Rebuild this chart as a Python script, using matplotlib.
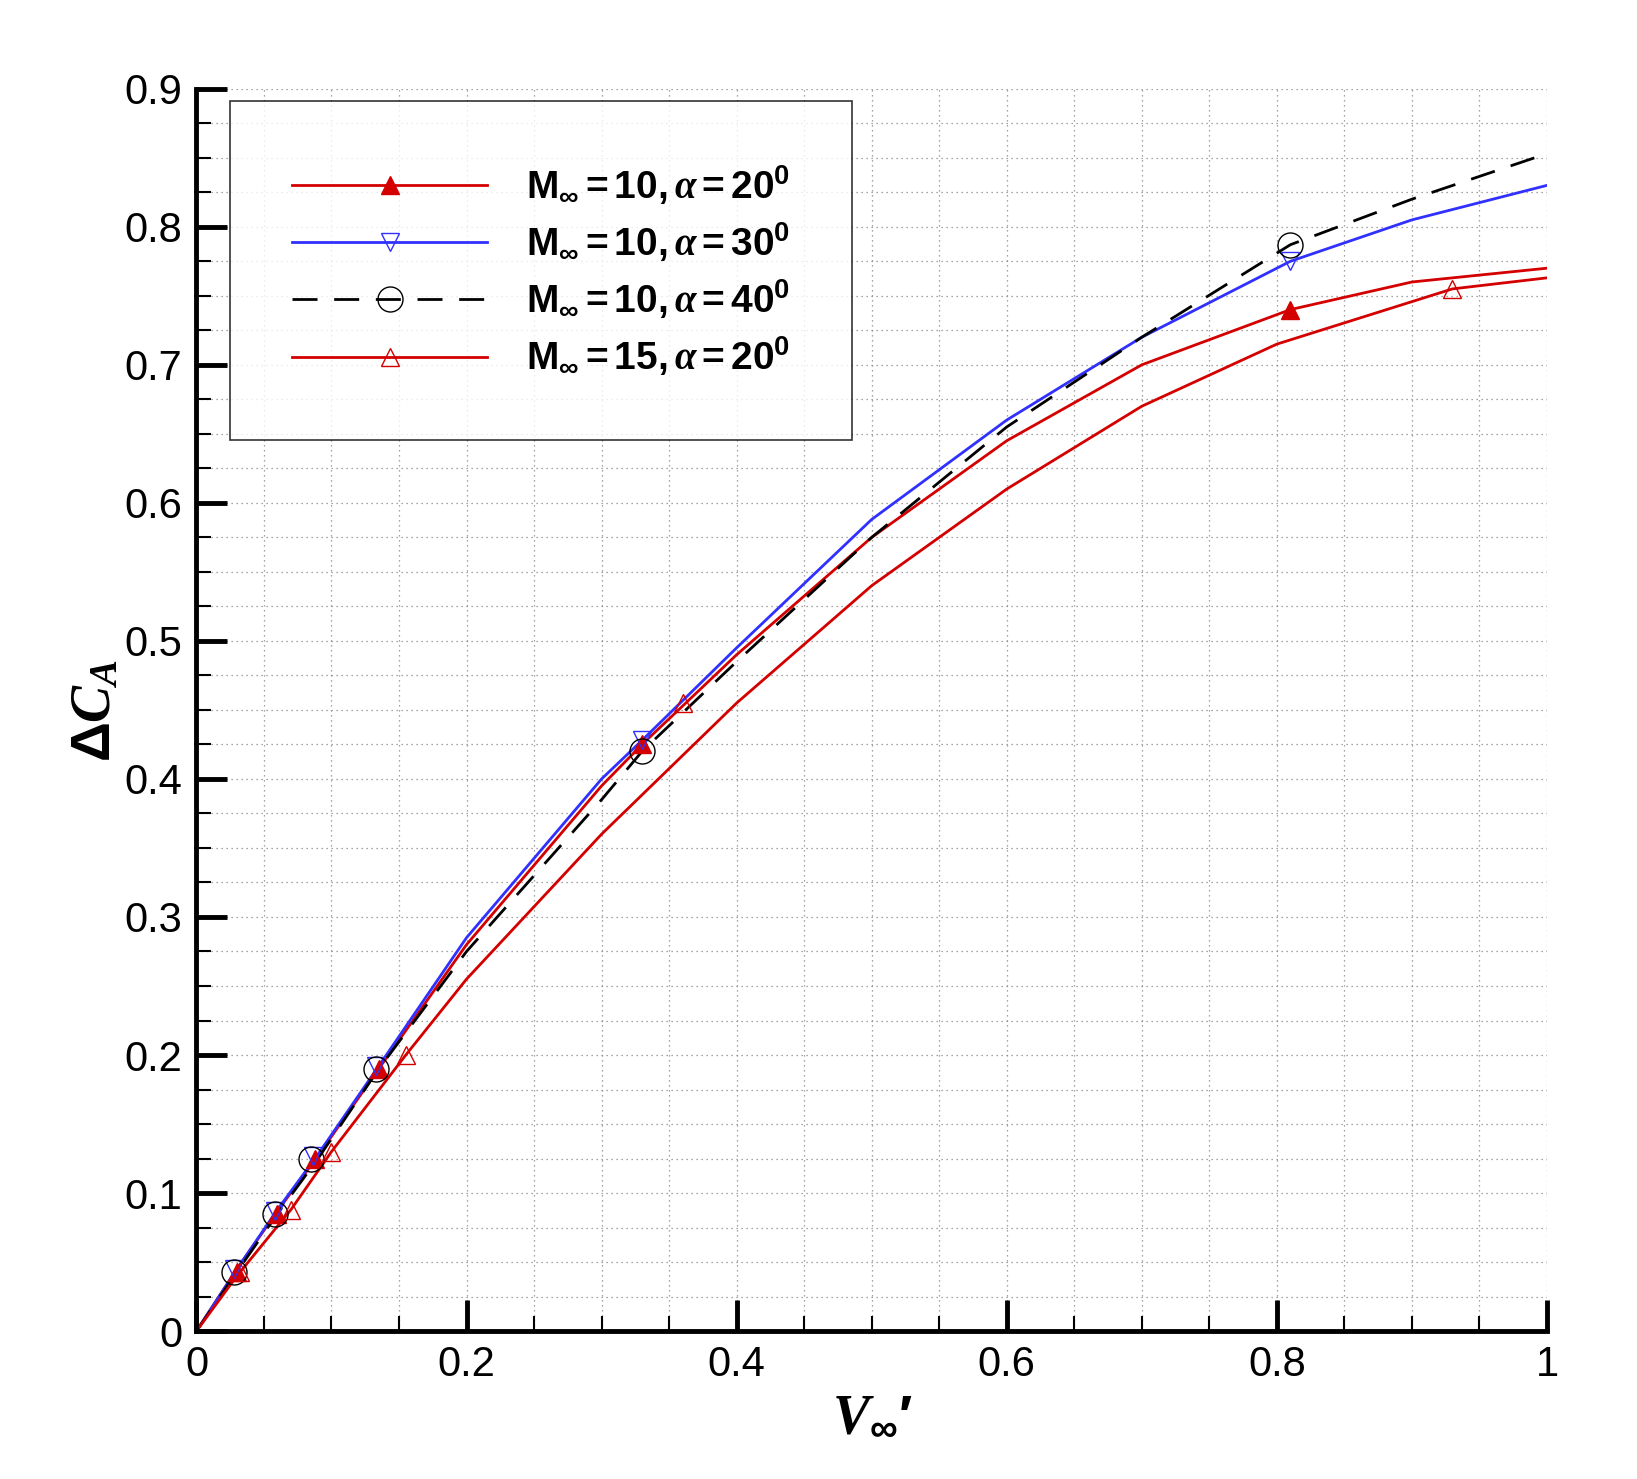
import matplotlib
matplotlib.use("Agg")
import matplotlib.pyplot as plt
from matplotlib.ticker import MultipleLocator

plt.rcParams["font.family"] = ["Liberation Sans", "DejaVu Sans"]
plt.rcParams["mathtext.fontset"] = "custom"
plt.rcParams["mathtext.rm"] = "Liberation Sans:bold"
plt.rcParams["mathtext.it"] = "Liberation Serif:bold:italic"
plt.rcParams["mathtext.bf"] = "Liberation Sans:bold"

# curve samples
x_a20 = [0, 0.03, 0.06, 0.09, 0.135, 0.2, 0.3, 0.33, 0.4, 0.5, 0.6, 0.7, 0.81, 0.9, 1.0]
y_a20 = [0, 0.045, 0.087, 0.127, 0.19, 0.28, 0.395, 0.425, 0.49, 0.575, 0.645, 0.70, 0.74, 0.76, 0.77]
x_a30 = [0, 0.03, 0.06, 0.09, 0.135, 0.2, 0.3, 0.33, 0.4, 0.5, 0.6, 0.7, 0.81, 0.9, 1.0]
y_a30 = [0, 0.045, 0.088, 0.128, 0.192, 0.285, 0.40, 0.428, 0.495, 0.588, 0.66, 0.72, 0.775, 0.805, 0.83]
x_a40 = [0, 0.03, 0.06, 0.09, 0.135, 0.2, 0.3, 0.33, 0.4, 0.5, 0.6, 0.7, 0.81, 0.9, 1.0]
y_a40 = [0, 0.043, 0.085, 0.125, 0.19, 0.275, 0.385, 0.42, 0.485, 0.575, 0.655, 0.72, 0.787, 0.82, 0.853]
x_m15 = [0, 0.03, 0.07, 0.1, 0.155, 0.2, 0.3, 0.4, 0.5, 0.6, 0.7, 0.8, 0.93, 1.0]
y_m15 = [0, 0.04, 0.088, 0.13, 0.2, 0.255, 0.36, 0.455, 0.54, 0.61, 0.67, 0.715, 0.755, 0.763]

# marker positions
mx_a20 = [0.03, 0.06, 0.088, 0.135, 0.33, 0.81]
my_a20 = [0.043, 0.085, 0.125, 0.19, 0.425, 0.74]
mx_a30 = [0.028, 0.058, 0.086, 0.133, 0.33, 0.81]
my_a30 = [0.045, 0.087, 0.127, 0.192, 0.428, 0.775]
mx_a40 = [0.028, 0.058, 0.085, 0.133, 0.33, 0.81]
my_a40 = [0.043, 0.085, 0.125, 0.19, 0.42, 0.787]
mx_m15 = [0.032, 0.07, 0.1, 0.155, 0.36, 0.93]
my_m15 = [0.043, 0.088, 0.13, 0.2, 0.455, 0.755]

labels = [r"$\mathrm{M_\infty=10,}\alpha\mathrm{=20^0}$",
          r"$\mathrm{M_\infty=10,}\alpha\mathrm{=30^0}$",
          r"$\mathrm{M_\infty=10,}\alpha\mathrm{=40^0}$",
          r"$\mathrm{M_\infty=15,}\alpha\mathrm{=20^0}$"]

fig = plt.figure(figsize=(16.37, 14.79), dpi=100)
ax = fig.add_axes([0.12, 0.1, 0.825, 0.84])

ax.plot(x_a20, y_a20, color="#d40000", lw=2)
ax.plot(x_a30, y_a30, color="#3030ff", lw=2)
ax.plot(x_a40, y_a40, color="black", lw=2, dashes=(9, 6))
ax.plot(x_m15, y_m15, color="#d40000", lw=2)

ax.plot(mx_a20, my_a20, "^", color="#d40000", ms=13, ls="none")
ax.plot(mx_a30, my_a30, "v", mfc="none", mec="#3030ff", ms=13, ls="none")
ax.plot(mx_a40, my_a40, "o", mfc="none", mec="black", ms=18, ls="none")
ax.plot(mx_m15, my_m15, "^", mfc="none", mec="#d40000", ms=13, ls="none")

# legend proxies
h1, = ax.plot([], [], color="#d40000", lw=2, marker="^", ms=13)
h2, = ax.plot([], [], color="#3030ff", lw=2, marker="v", mfc="none", ms=13)
h3, = ax.plot([], [], color="black", lw=2, dashes=(9, 6), marker="o", mfc="none", ms=18)
h4, = ax.plot([], [], color="#d40000", lw=2, marker="^", mfc="none", ms=13)
leg = ax.legend([h1, h2, h3, h4], labels, loc="upper left", bbox_to_anchor=(0.025, 0.99),
                fontsize=28, handlelength=5, frameon=True, fancybox=False,
                borderpad=1.6, labelspacing=0.35, handletextpad=1.0, borderaxespad=0)
leg.get_frame().set_edgecolor("black")
leg.get_frame().set_linewidth(1.2)

ax.set_xlim(0, 1)
ax.set_ylim(0, 0.9)
ax.xaxis.set_major_locator(MultipleLocator(0.2))
ax.xaxis.set_minor_locator(MultipleLocator(0.05))
ax.yaxis.set_major_locator(MultipleLocator(0.1))
ax.yaxis.set_minor_locator(MultipleLocator(0.025))
ax.xaxis.set_major_formatter(plt.FuncFormatter(lambda v, p: f"{v:g}"))
ax.yaxis.set_major_formatter(plt.FuncFormatter(lambda v, p: f"{v:g}"))
ax.grid(which="both", ls=(0, (1, 3)), color="#888888", lw=0.9)
ax.tick_params(which="major", direction="in", length=22, width=3.5, labelsize=30, pad=10)
ax.tick_params(which="minor", direction="in", length=11, width=1.5)
for s in ["top", "right"]:
    ax.spines[s].set_visible(False)
for s in ["left", "bottom"]:
    ax.spines[s].set_linewidth(3.5)

ax.set_xlabel(r"$\mathit{V_\infty}\mathbf{\prime}$", fontsize=40, labelpad=4)
ax.set_ylabel(r"$\Delta \mathit{C_A}$", fontsize=40, labelpad=2)

fig.savefig("out.png", dpi=100, facecolor="white")
